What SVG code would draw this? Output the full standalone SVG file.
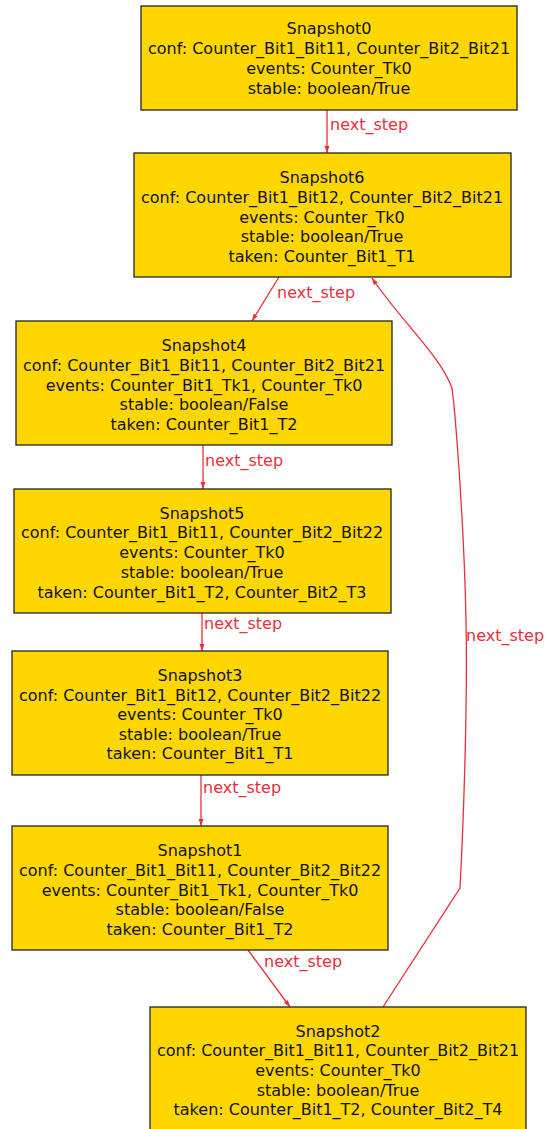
<svg xmlns="http://www.w3.org/2000/svg" width="547" height="1129" viewBox="0 0 547 1129">
<style>
.n rect{fill:#ffd700;stroke:#222;stroke-width:1.3}
.n text{font-family:"DejaVu Sans",sans-serif;font-size:16px;fill:#111;text-anchor:middle}
.e path{fill:none;stroke:#e8303a;stroke-width:1.3}
.e text{font-family:"DejaVu Sans",sans-serif;font-size:16px;fill:#e8303a}
</style>
<defs>
<marker id="a" viewBox="0 0 10 10" refX="10" refY="5" markerWidth="7" markerHeight="7" orient="auto" markerUnits="userSpaceOnUse"><path d="M0,1.5L10,5L0,8.5z" fill="#e8303a"/></marker>
</defs>
<rect width="547" height="1129" fill="#fff"/>
<g class="e">
<path d="M327,110L327,153" marker-end="url(#a)"/><text x="330" y="130">next_step</text>
<path d="M279,277L252,321" marker-end="url(#a)"/><text x="277" y="298">next_step</text>
<path d="M203,445L203,489" marker-end="url(#a)"/><text x="205" y="466">next_step</text>
<path d="M202,613L202,651" marker-end="url(#a)"/><text x="204" y="629">next_step</text>
<path d="M201,775L201,826" marker-end="url(#a)"/><text x="203" y="793">next_step</text>
<path d="M248,950L290,1007" marker-end="url(#a)"/><text x="264" y="967">next_step</text>
<path d="M383,1007L460,888C462,850 468,720 466,620C464,520 455,410 452,388C440,355 400,320 372,278" marker-end="url(#a)"/><text x="466" y="641">next_step</text>
</g>
<g id="Snapshot0" class="n"><rect x="141" y="6" width="376" height="104"/>
<text x="329" y="34">Snapshot0</text><text x="329" y="54">conf: Counter_Bit1_Bit11, Counter_Bit2_Bit21</text><text x="329" y="74">events: Counter_Tk0</text><text x="329" y="94">stable: boolean/True</text></g>
<g id="Snapshot6" class="n"><rect x="134" y="153" width="377" height="124"/>
<text x="322" y="183">Snapshot6</text><text x="322" y="203">conf: Counter_Bit1_Bit12, Counter_Bit2_Bit21</text><text x="322" y="223">events: Counter_Tk0</text><text x="322" y="242">stable: boolean/True</text><text x="322" y="262">taken: Counter_Bit1_T1</text></g>
<g id="Snapshot4" class="n"><rect x="16" y="321" width="376" height="124"/>
<text x="204" y="351">Snapshot4</text><text x="204" y="371">conf: Counter_Bit1_Bit11, Counter_Bit2_Bit21</text><text x="204" y="391">events: Counter_Bit1_Tk1, Counter_Tk0</text><text x="204" y="410">stable: boolean/False</text><text x="204" y="430">taken: Counter_Bit1_T2</text></g>
<g id="Snapshot5" class="n"><rect x="14" y="489" width="377" height="124"/>
<text x="202" y="519">Snapshot5</text><text x="202" y="538">conf: Counter_Bit1_Bit11, Counter_Bit2_Bit22</text><text x="202" y="558">events: Counter_Tk0</text><text x="202" y="578">stable: boolean/True</text><text x="202" y="598">taken: Counter_Bit1_T2, Counter_Bit2_T3</text></g>
<g id="Snapshot3" class="n"><rect x="12" y="651" width="376" height="124"/>
<text x="200" y="681">Snapshot3</text><text x="200" y="701">conf: Counter_Bit1_Bit12, Counter_Bit2_Bit22</text><text x="200" y="720">events: Counter_Tk0</text><text x="200" y="740">stable: boolean/True</text><text x="200" y="759">taken: Counter_Bit1_T1</text></g>
<g id="Snapshot1" class="n"><rect x="12" y="826" width="376" height="124"/>
<text x="200" y="856">Snapshot1</text><text x="200" y="876">conf: Counter_Bit1_Bit11, Counter_Bit2_Bit22</text><text x="200" y="896">events: Counter_Bit1_Tk1, Counter_Tk0</text><text x="200" y="915">stable: boolean/False</text><text x="200" y="935">taken: Counter_Bit1_T2</text></g>
<g id="Snapshot2" class="n"><rect x="150" y="1007" width="376" height="130"/>
<text x="338" y="1037">Snapshot2</text><text x="338" y="1056">conf: Counter_Bit1_Bit11, Counter_Bit2_Bit21</text><text x="338" y="1076">events: Counter_Tk0</text><text x="338" y="1096">stable: boolean/True</text><text x="338" y="1115">taken: Counter_Bit1_T2, Counter_Bit2_T4</text></g>
</svg>
